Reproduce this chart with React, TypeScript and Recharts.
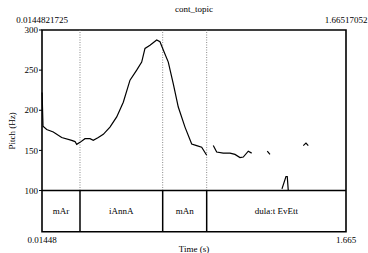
import {
  ComposedChart,
  Line,
  XAxis,
  YAxis,
  ReferenceArea,
  ReferenceLine,
} from "recharts";

// time window of the selection
const tStart = 0.0144821725;
const tEnd = 1.66517052;
const topTickLabels = ["0.0144821725", "1.66517052"];
const bottomTickLabels = ["0.01448", "1.665"];

// pitch track, null = unvoiced gap
const times = [
  0.015, 0.0199, 0.04, 0.0758, 0.1214, 0.1757, 0.1937, 0.2029, 0.2208, 0.2479,
  0.2751, 0.293, 0.3202, 0.3473, 0.3835, 0.4201, 0.4559, 0.4923, 0.5286, 0.5558,
  0.5737, 0.6009, 0.6372, 0.6551, 0.6731, 0.7002, 0.7274, 0.7545, 0.7909, 0.8273,
  0.8544, 0.8815, 0.9087, 0.925,
  0.9445, 0.963, 0.9988, 1.0352, 1.0623, 1.0895, 1.1074, 1.1345, 1.153, 1.19,
  1.2377, 1.2523, 1.28,
  1.3175, 1.3392, 1.3462, 1.3517, 1.39,
  1.4331, 1.4478, 1.4603,
];
const pitch = [
  222, 180, 176, 173, 166, 162.5, 161, 157.5, 160, 164.6,
  164.6, 162.5, 166, 170, 179, 191.7, 210, 237.5, 250, 260,
  277, 281, 287.5, 285.4, 275, 260, 233, 204, 179, 158,
  156, 154, 144, null,
  156, 148, 146.6, 146.6, 145, 141, 141.7, 149, 146.6, null,
  149, 145, null,
  102, 117.5, 117.5, 100, null,
  156, 159, 156,
];

// text tier
const tierBounds = [tStart, 0.2208, 0.6698, 0.9087, tEnd];
const tierLabels = ["mAr", "iAnnA", "mAn", "dula:t EvEtt"];

const yTicks = [100, 150, 200, 250, 300];
const yMin = 48.7;

const data = times.map((t, i) => ({ t, hz: pitch[i] }));

const font = { fontSize: 9, fill: "#000", fontFamily: "Liberation Serif" };

export default function App() {
  return (
    <div style={{ position: "absolute", left: 0, top: 0, fontFamily: "Liberation Serif" }}>
      <style>{"svg text { font-family: 'Liberation Serif', serif !important; }"}</style>
      <ComposedChart
        width={368}
        height={253}
        data={data}
        margin={{ top: 0, right: 22, bottom: 0, left: 12 }}
      >
        <XAxis
          dataKey="t"
          type="number"
          domain={[tStart, tEnd]}
          ticks={[tStart, tEnd]}
          interval={0}
          tickFormatter={(v, i) => bottomTickLabels[i]}
          height={21.3}
          axisLine={false}
          tickLine={false}
          tickSize={0}
          tickMargin={5}
          tick={font}
          label={{ value: "Time (s)", position: "insideBottom", offset: 1, ...font }}
        />
        <XAxis
          xAxisId="top"
          orientation="top"
          dataKey="t"
          type="number"
          domain={[tStart, tEnd]}
          ticks={[tStart, tEnd]}
          interval={0}
          tickFormatter={(v, i) => topTickLabels[i]}
          height={30}
          axisLine={false}
          tickLine={false}
          tickSize={0}
          tickMargin={7}
          tick={font}
          label={{ value: "cont_topic", position: "insideTop", offset: 5.5, ...font }}
        />
        <YAxis
          type="number"
          domain={[yMin, 300]}
          ticks={yTicks}
          interval={0}
          width={30}
          axisLine={false}
          tickLine={{ stroke: "#000" }}
          tickSize={3}
          tickMargin={1}
          tick={font}
          label={{
            value: "Pitch (Hz)",
            angle: -90,
            position: "insideLeft",
            offset: 0,
            textAnchor: "middle",
            ...font,
          }}
        />
        {tierLabels.map((name, i) => (
          <ReferenceArea
            key={name}
            x1={tierBounds[i]}
            x2={tierBounds[i + 1]}
            y1={yMin}
            y2={100}
            fill="none"
            stroke="none"
            label={{ value: name, position: "center", ...font }}
          />
        ))}
        {tierBounds.slice(1, -1).map((b) => (
          <ReferenceLine
            key={"d" + b}
            segment={[
              { x: b, y: 100 },
              { x: b, y: 300 },
            ]}
            stroke="#888"
            strokeDasharray="1 1.5"
          />
        ))}
        {tierBounds.slice(1, -1).map((b) => (
          <ReferenceLine
            key={"s" + b}
            segment={[
              { x: b, y: yMin },
              { x: b, y: 100 },
            ]}
            stroke="#000"
            strokeWidth={1.5}
          />
        ))}
        <ReferenceLine y={100} stroke="#000" strokeWidth={1.5} />
        <ReferenceArea
          x1={tStart}
          x2={tEnd}
          y1={yMin}
          y2={300}
          fill="none"
          fillOpacity={0}
          stroke="#000"
          strokeWidth={1.6}
        />
        <Line
          dataKey="hz"
          type="linear"
          stroke="#000"
          strokeWidth={1.2}
          dot={false}
          connectNulls={false}
          isAnimationActive={false}
        />
      </ComposedChart>
    </div>
  );
}
